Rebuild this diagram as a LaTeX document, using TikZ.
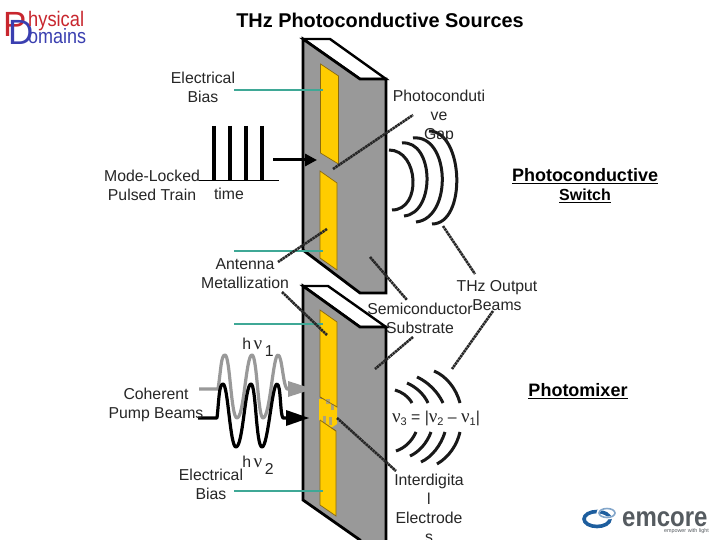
\documentclass[tikz,border=0pt]{standalone}
\usepackage{fontspec}
\setmainfont{Liberation Sans}
\newfontfamily\serifgreek{Liberation Serif}
\usetikzlibrary{arrows.meta}
\definecolor{goldpad}{HTML}{FFCC00}
\definecolor{padedge}{HTML}{8A6A10}
\definecolor{slab}{HTML}{999999}
\definecolor{tealline}{HTML}{3FA896}
\definecolor{inktext}{HTML}{262626}
\definecolor{pdred}{HTML}{C8262E}
\definecolor{pdblue}{HTML}{3A3FB0}
\definecolor{emblue}{HTML}{1E5E9E}
\definecolor{emgray}{HTML}{555B60}
\newcommand{\nuu}{{\serifgreek\fontsize{19}{19}\selectfont ν}}
\newcommand{\lowidx}[1]{\raisebox{-3pt}{\fontsize{11}{11}\selectfont #1}}
\tikzset{
  txt/.style={inner sep=0pt,outer sep=0pt,align=center,text=inktext,font=\fontsize{15.8}{19}\selectfont},
  headtxt/.style={inner sep=0pt,outer sep=0pt,align=center,text=black,font=\fontsize{18}{20}\selectfont\bfseries},
  slabface/.style={fill=slab,draw=black,line width=2.8pt,line join=miter},
  slabtop/.style={fill=white,draw=black,line width=2.4pt,line join=miter},
  pad/.style={fill=goldpad,draw=padedge,line width=0.7pt},
  biasline/.style={draw=tealline,line width=1.2pt},
  leaderline/.style={draw=black!85,line width=2.6pt,dash pattern=on 2.4pt off 0.6pt},
  wavefront/.style={draw=black!90,line width=3pt},
  pulse/.style={draw=black,line width=3.6pt},
  beamgray/.style={draw=slab,line width=3.2pt,line join=round},
  beamblack/.style={draw=black,line width=3.2pt,line join=round},
}
\begin{document}
\begin{tikzpicture}[x=1pt,y=-1pt]
\useasboundingbox (0,0) rectangle (720,540);
\clip (0,0) rectangle (720,540);
\fill[white] (0,0) rectangle (720,540);

% upper slab
\draw[slabtop] (303,39) -- (330,39) -- (386,79) -- (360,79) -- cycle;
\draw[slabface] (303,39) -- (360,79) -- (386,79) -- (386,293) -- (360,293) -- (303,250) -- cycle;
\draw[pad] (320.5,64) -- (338.5,76) -- (338.5,164) -- (320.5,153) -- cycle;
\draw[pad] (320,171) -- (337,183) -- (337,270) -- (320,258) -- cycle;

% lower slab
\draw[slabtop] (303,286) -- (328,286) -- (386,327) -- (360,327) -- cycle;
\draw[slabface] (303,286) -- (360,327) -- (386,327) -- (386,560) -- (360,560) -- (360,540) -- (303,500) -- cycle;
\draw[pad] (320,310) -- (337,322) -- (337,407) -- (320,397) -- cycle;
\draw[pad] (320,420) -- (336,431) -- (336,516) -- (320,505) -- cycle;
\fill[goldpad] (319,399) -- (331,399) -- (337,408) -- (337,424) -- (331,428) -- (319,420) -- cycle;
\fill[slab!80!goldpad] (326,399) rectangle (330,404);
\fill[slab!80!goldpad] (331,404) rectangle (334,410);
\fill[slab!80!goldpad] (323,416) rectangle (326,423);
\fill[slab!80!goldpad] (329,417) rectangle (332,425);
\draw[draw=padedge,line width=0.7pt] (320,397) -- (337,407);
\draw[draw=padedge,line width=0.7pt] (320,420) -- (336,431);

% pulse train
\coordinate (pulseL) at (199,180);
\coordinate (pulseR) at (279,180);
\draw[draw=black,line width=0.9pt] (pulseL) -- (pulseR);
\draw[pulse] (214,126) -- (214,180);
\draw[pulse] (230,126) -- (230,180);
\draw[pulse] (246,126) -- (246,180);
\draw[pulse] (262,126) -- (262,180);
\coordinate (pulseArrowA) at (273,160);
\coordinate (pulseArrowB) at (317,160);
\draw[draw=black,line width=3pt,-{Triangle[length=12pt,width=12pt]}] (pulseArrowA) -- (pulseArrowB);

% wavefronts, upper
\draw[wavefront] (389,150) .. controls (419,150) and (422,210) .. (392,210);
\draw[wavefront] (402,143) .. controls (434,140) and (436,213) .. (404,216);
\draw[wavefront] (413,138) .. controls (450,134) and (453,218) .. (416,222);
\draw[wavefront] (429,131) .. controls (464,131) and (467,224) .. (432,224);

% wavefronts, lower
\draw[wavefront] (395,390) .. controls (402,392) and (408,396) .. (412,403);
\draw[wavefront] (407,383) .. controls (416,387) and (424,394) .. (428,403);
\draw[wavefront] (417,377) .. controls (428,382) and (438,392) .. (443,403);
\draw[wavefront] (434,371) .. controls (446,376) and (456,388) .. (460,403);
\draw[wavefront] (396,451) .. controls (405,448) and (412,441) .. (416,432);
\draw[wavefront] (410,456) .. controls (419,452) and (427,443) .. (431,432);
\draw[wavefront] (421,462) .. controls (432,457) and (441,445) .. (445,432);
\draw[wavefront] (437,464) .. controls (449,457) and (457,445) .. (460,432);

% beams
\coordinate (grayStart) at (199,389);
\coordinate (grayTip) at (313,389);
\coordinate (blackStart) at (198,418);
\coordinate (blackTip) at (309,418);
\draw[beamgray] (grayStart) -- (218,389)
  .. controls (221,370) and (221,355) .. (225,355)
  .. controls (230,355) and (231,418) .. (237,418)
  .. controls (244,418) and (246,355) .. (252,355)
  .. controls (257,355) and (258,418) .. (263,418)
  .. controls (270,418) and (273,355) .. (278,355)
  .. controls (282,355) and (283,385) .. (287,389) -- (292,389);
\fill[slab] (288,381) -- (grayTip) -- (288,397) -- cycle;
\draw[beamblack] (blackStart) -- (217,418)
  .. controls (219,400) and (219,384) .. (223,384)
  .. controls (228,384) and (230,447) .. (236,447)
  .. controls (243,447) and (245,384) .. (251,384)
  .. controls (256,384) and (256,447) .. (262,447)
  .. controls (268,447) and (272,384) .. (277,384)
  .. controls (281,384) and (280,415) .. (283,418) -- (290,418);
\fill[black] (286,410) -- (blackTip) -- (286,426) -- cycle;

% text labels
\node[txt] (bias1) at (203,87.5) {Electrical\\Bias};
\node[txt] (gap) at (439,116.5) {Photoconduti\\ve\\Gap};
\node[txt] (train) at (152,185) {Mode-Locked\\Pulsed Train};
\node[txt] (timelbl) at (229,194) {time};
\node[txt] (antenna) at (245,273.5) {Antenna\\Metallization};
\node[txt] (thz) at (497,295.5) {THz Output\\Beams};
\node[txt] (semi) at (420,318.5) {Semiconductor\\Substrate};
\node[txt] (hnu1) at (258,347.5) {h\,\nuu\,\raisebox{-7pt}{1}};
\node[txt] (pump) at (156,404.5) {Coherent\\Pump Beams};
\node[txt] (hnu2) at (258,465) {h\,\nuu\,\raisebox{-7pt}{2}};
\node[txt] (bias2) at (211,484.5) {Electrical\\Bias};
\node[txt] (nueq) at (436,418) {\nuu\lowidx{3} = |\nuu\lowidx{2} – \nuu\lowidx{1}|};
\node[txt,anchor=north] (inter) at (429,474) {Interdigita\\l\\Electrode\\s};
\node[headtxt] (title) at (380,20) {\fontsize{19.9}{22}\selectfont THz Photoconductive Sources};
\node[headtxt] (sw1) at (585,176) {\underline{Photoconductive}};
\node[headtxt] (sw2) at (585,196) {\fontsize{16}{18}\selectfont\underline{Switch}};
\node[headtxt] (mixer) at (578,391) {\underline{Photomixer}};

% bias lines
\coordinate (padA) at (323,90);
\coordinate (padB) at (323,251);
\coordinate (padC) at (323,324);
\coordinate (padD) at (323,491);
\coordinate (biasA) at (234,90);
\coordinate (biasB) at (234,251);
\coordinate (biasC) at (234,324);
\coordinate (biasD) at (234,491);
\draw[biasline] (biasA) -- (padA);
\draw[biasline] (biasB) -- (padB);
\draw[biasline] (biasC) -- (padC);
\draw[biasline] (biasD) -- (padD);

% leaders
\coordinate (l1a) at (333,169); \coordinate (l1b) at (413,115);
\coordinate (l2a) at (327,229); \coordinate (l2b) at (278,262);
\coordinate (l3a) at (443,226); \coordinate (l3b) at (475,274);
\coordinate (l4a) at (370,257); \coordinate (l4b) at (407,300);
\coordinate (l5a) at (413,337); \coordinate (l5b) at (375,369);
\coordinate (l6a) at (493,311); \coordinate (l6b) at (452,369);
\coordinate (l7a) at (337,418); \coordinate (l7b) at (396,471);
\coordinate (l8a) at (282,292); \coordinate (l8b) at (327,335);
\draw[leaderline] (l1a) -- (l1b);
\draw[leaderline] (l2a) -- (l2b);
\draw[leaderline] (l3a) -- (l3b);
\draw[leaderline] (l4a) -- (l4b);
\draw[leaderline] (l5a) -- (l5b);
\draw[leaderline] (l6a) -- (l6b);
\draw[leaderline] (l7a) -- (l7b);
\draw[leaderline] (l8a) -- (l8b);

% Physical Domains logo
\node[inner sep=0pt,text=pdred,font=\fontsize{35}{35}\selectfont,anchor=base west] (logoP) at (3,37) {P};
\node[inner sep=0pt,text=pdblue,font=\fontsize{35}{35}\selectfont,anchor=base west] (logoD) at (8,45) {D};
\node[inner sep=0pt,text=pdred,font=\fontsize{18.3}{18}\selectfont,anchor=base west] (logoA) at (28,27) {\scalebox{1}[1.15]{hysical}};
\node[inner sep=0pt,text=pdblue,font=\fontsize{18}{18}\selectfont,anchor=base west] (logoB) at (28,44) {\scalebox{1}[1.15]{omains}};

% emcore logo
\draw[draw=emblue,line width=3.6pt] (597,519) ellipse [x radius=13,y radius=7.5];
\draw[draw=white,line width=3pt] (607,513) ellipse [x radius=9,y radius=5];
\draw[draw=emblue!55!white,line width=1.6pt] (607,513) ellipse [x radius=8,y radius=4.5];
\node[inner sep=0pt,text=emgray,font=\fontsize{24}{24}\selectfont\bfseries,anchor=base west] (emc) at (622,526) {\scalebox{1}[1.15]{emcore}};
\node[inner sep=0pt,text=emgray,font=\fontsize{5.4}{6}\selectfont,anchor=base east] (emt) at (709,532.5) {empower with light};
\end{tikzpicture}
\end{document}
